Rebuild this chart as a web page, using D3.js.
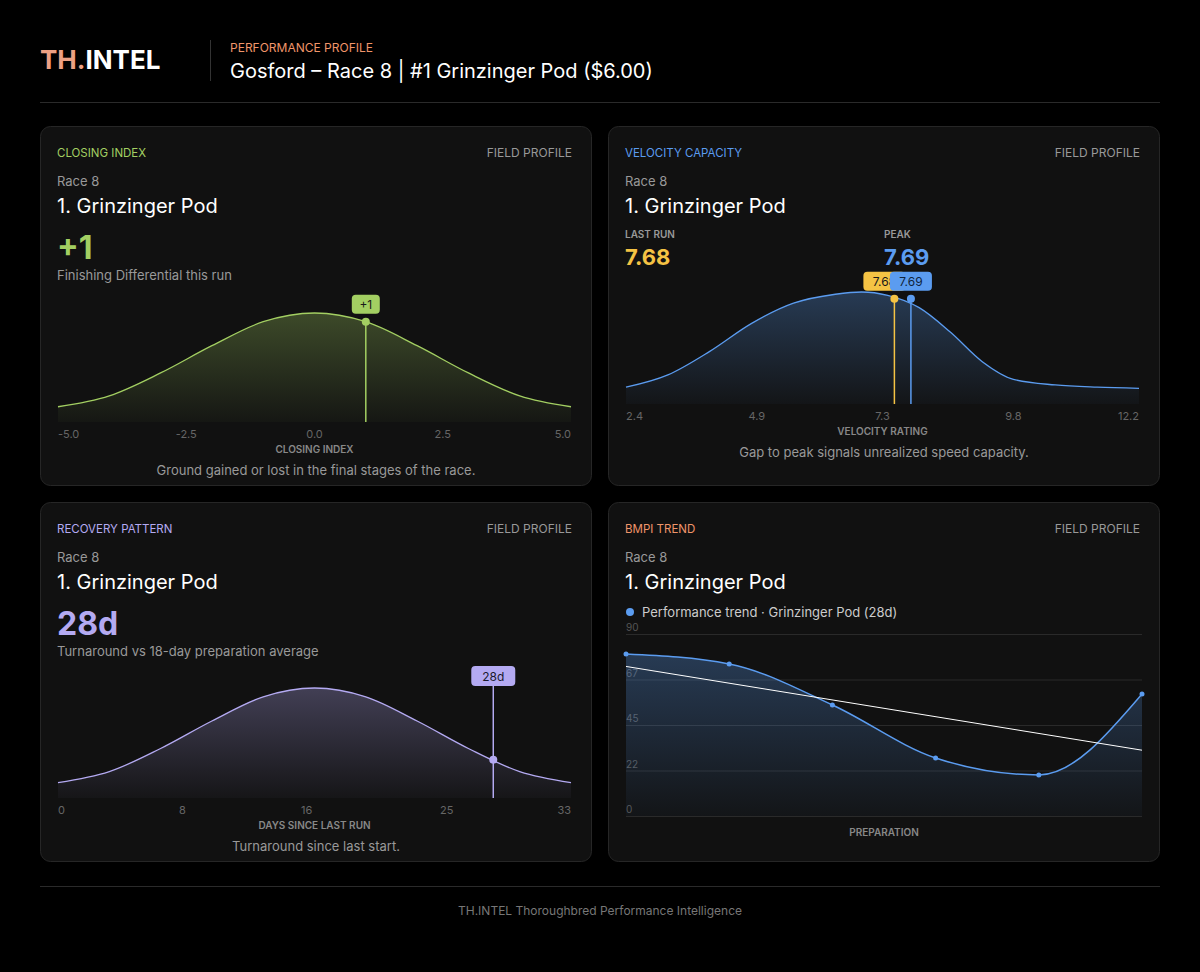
<!DOCTYPE html>
<html><head><meta charset="utf-8">
<script src="https://cdn.jsdelivr.net/npm/d3@7"></script>
<style>
body{margin:0;background:#000;font-family:Inter,"Noto Sans",sans-serif;}
</style></head>
<body><svg id="c" width="1200" height="972"></svg>
<script>
// data
var closingX = [-5, -4, -3, -2, -1, 0, 1, 2, 3, 4, 5];
var closingD = [0.14, 0.24, 0.45, 0.70, 0.92, 1.0, 0.92, 0.70, 0.45, 0.24, 0.14];
var closingTicks = [-5.0, -2.5, 0.0, 2.5, 5.0];
var closingValue = 1;

var velocityX = [2.4, 3.2, 4.0, 4.8, 5.6, 6.4, 6.9, 7.4, 8.0, 8.6, 9.2, 9.8, 10.6, 11.4, 12.2];
var velocityD = [0.15, 0.26, 0.47, 0.72, 0.90, 0.98, 1.0, 0.97, 0.86, 0.64, 0.38, 0.22, 0.17, 0.15, 0.14];
var velocityTicks = [2.4, 4.9, 7.3, 9.8, 12.2];
var lastRun = 7.68, peak = 7.69;

var recoveryX = [0, 3.3, 6.6, 9.9, 13.2, 16.5, 19.8, 23.1, 26.4, 29.7, 33];
var recoveryD = [0.14, 0.24, 0.45, 0.70, 0.92, 1.0, 0.92, 0.70, 0.45, 0.24, 0.14];
var recoveryTicks = [0, 8, 16, 25, 33];
var recoveryValue = 28;

var trendVals = [80.1, 75.2, 54.9, 28.7, 20.3, 60.3];
var trendTicks = [0, 22.5, 45, 67.5, 90];

var C = {green:"#a3cf62", blue:"#5b9cf0", yellow:"#f5c344", purple:"#b4aaf2", orange:"#f0956a", grey:"#8a8a8a"};

var svg = d3.select("#c");
var defs = svg.append("defs");

// header
var h = svg.append("text").attr("x", 40).attr("y", 69).attr("font-size", 26).attr("font-weight", 700);
h.append("tspan").attr("fill", "#eda083").text("TH.");
h.append("tspan").attr("fill", "#fff").text("INTEL");
svg.append("line").attr("x1", 210.5).attr("x2", 210.5).attr("y1", 40).attr("y2", 81).attr("stroke", "#333");
svg.append("text").attr("x", 230).attr("y", 52).attr("fill", C.orange).attr("font-size", 12).text("PERFORMANCE PROFILE");
svg.append("text").attr("x", 230).attr("y", 78).attr("fill", "#fff").attr("font-size", 20).text("Gosford – Race 8 | #1 Grinzinger Pod ($6.00)");
svg.append("line").attr("x1", 40).attr("x2", 1160).attr("y1", 102.5).attr("y2", 102.5).attr("stroke", "#2a2a2a");
svg.append("line").attr("x1", 40).attr("x2", 1160).attr("y1", 886.5).attr("y2", 886.5).attr("stroke", "#2a2a2a");
svg.append("text").attr("x", 600).attr("y", 915).attr("text-anchor", "middle").attr("fill", "#777").attr("font-size", 12)
  .text("TH.INTEL Thoroughbred Performance Intelligence");

function card(x, y, label, color) {
  var g = svg.append("g").attr("transform", "translate(" + x + "," + y + ")");
  g.append("rect").attr("x", 0.5).attr("y", 0.5).attr("width", 551).attr("height", 359).attr("rx", 10)
    .attr("fill", "#111").attr("stroke", "#262626");
  g.append("text").attr("x", 17).attr("y", 31).attr("fill", color).attr("font-size", 11.5).text(label);
  g.append("text").attr("x", 532).attr("y", 31).attr("text-anchor", "end").attr("fill", "#999").attr("font-size", 12).text("FIELD PROFILE");
  g.append("text").attr("x", 17).attr("y", 60).attr("fill", "#999").attr("font-size", 13).text("Race 8");
  g.append("text").attr("x", 17).attr("y", 87).attr("fill", "#fff").attr("font-size", 20).text("1. Grinzinger Pod");
  return g;
}

function grad(id, color) {
  var lg = defs.append("linearGradient").attr("id", id).attr("x1", 0).attr("x2", 0).attr("y1", 0).attr("y2", 1);
  lg.append("stop").attr("offset", "0%").attr("stop-color", color).attr("stop-opacity", 0.3);
  lg.append("stop").attr("offset", "100%").attr("stop-color", color).attr("stop-opacity", 0.03);
}
grad("gG", C.green); grad("gB", C.blue); grad("gP", C.purple);

function bell(g, xs, ds, dom, ticks, fmt, color, gid, x0, x1, yTop, yBot, axisTitle, caption) {
  var x = d3.scaleLinear().domain(dom).range([x0, x1]);
  var y = d3.scaleLinear().domain([0, 1]).range([yBot, yTop]);
  var pts = xs.map(function(v, i){ return [v, ds[i]]; });
  g.append("path").datum(pts).attr("fill", "url(#" + gid + ")")
    .attr("d", d3.area().x(function(d){return x(d[0]);}).y0(yBot).y1(function(d){return y(d[1]);}).curve(d3.curveMonotoneX));
  var line = d3.line().x(function(d){return x(d[0]);}).y(function(d){return y(d[1]);}).curve(d3.curveMonotoneX);
  g.append("path").datum(pts).attr("fill", "none").attr("stroke", color).attr("stroke-width", 1.3).attr("d", line);
  g.selectAll(".tk").data(ticks).enter().append("text")
    .attr("x", function(d){return x(d);}).attr("y", yBot + 16)
    .attr("text-anchor", function(d, i){ return i === 0 ? "start" : (i === ticks.length - 1 ? "end" : "middle"); })
    .attr("fill", "#666").attr("font-size", 11).text(fmt);
  g.append("text").attr("x", (x0 + x1) / 2).attr("y", yBot + 31).attr("text-anchor", "middle")
    .attr("fill", "#888").attr("font-size", 10).attr("font-weight", 600).text(axisTitle);
  g.append("text").attr("x", 276).attr("y", yBot + 53).attr("text-anchor", "middle")
    .attr("fill", "#999").attr("font-size", 13).text(caption);
  return {x: x, y: y, line: line, pts: pts};
}

// curve y at value v, by interpolating the sampled density
function densAt(xs, ds, v) {
  var i = d3.bisectRight(xs, v) - 1; i = Math.max(0, Math.min(xs.length - 2, i));
  var t = (v - xs[i]) / (xs[i + 1] - xs[i]);
  return ds[i] + t * (ds[i + 1] - ds[i]);
}

function marker(g, px, py, color, label, yBot, textColor, shift) {
  g.append("line").attr("x1", px).attr("x2", px).attr("y1", py).attr("y2", yBot).attr("stroke", color).attr("stroke-width", 1.5);
  g.append("circle").attr("cx", px).attr("cy", py).attr("r", 4).attr("fill", color);
  var w = label.length * 7 + 14, bx = px - w / 2 + (shift || 0);
  g.append("rect").attr("x", bx).attr("y", py - 27).attr("width", w).attr("height", 19).attr("rx", 4).attr("fill", color);
  g.append("text").attr("x", bx + w / 2).attr("y", py - 13).attr("text-anchor", "middle").attr("fill", textColor || "#1a1a1a")
    .attr("font-size", 12).text(label);
}

// closing index
var g1 = card(40, 126, "CLOSING INDEX", C.green);
g1.append("text").attr("x", 17).attr("y", 133).attr("fill", C.green).attr("font-size", 32).attr("font-weight", 700).text("+" + closingValue);
g1.append("text").attr("x", 17).attr("y", 154).attr("fill", "#999").attr("font-size", 13).text("Finishing Differential this run");
var s1 = bell(g1, closingX, closingD, [-5, 5], closingTicks, function(d){return d.toFixed(1);}, C.green, "gG",
  18, 531, 187, 296, "CLOSING INDEX", "Ground gained or lost in the final stages of the race.");
marker(g1, s1.x(closingValue), s1.y(densAt(closingX, closingD, closingValue)), C.green, "+1", 296);

// velocity capacity
var g2 = card(608, 126, "VELOCITY CAPACITY", C.blue);
g2.append("text").attr("x", 17).attr("y", 112).attr("fill", "#999").attr("font-size", 10).attr("font-weight", 600).text("LAST RUN");
g2.append("text").attr("x", 17).attr("y", 139).attr("fill", C.yellow).attr("font-size", 22).attr("font-weight", 700).text(lastRun.toFixed(2));
g2.append("text").attr("x", 276).attr("y", 112).attr("fill", "#999").attr("font-size", 10).attr("font-weight", 600).text("PEAK");
g2.append("text").attr("x", 276).attr("y", 139).attr("fill", C.blue).attr("font-size", 22).attr("font-weight", 700).text(peak.toFixed(2));
var s2 = bell(g2, velocityX, velocityD, [2.4, 12.2], velocityTicks, function(d){return d.toFixed(1);}, C.blue, "gB",
  18, 531, 166, 278, "VELOCITY RATING", "Gap to peak signals unrealized speed capacity.");
var yMark = s2.y(0.94);
marker(g2, s2.x(lastRun) - 8, yMark, C.yellow, lastRun.toFixed(2), 278, "#1a1a1a", -10);
marker(g2, s2.x(peak) + 8, yMark, C.blue, peak.toFixed(2), 278, "#10243d");

// recovery
var g3 = card(40, 502, "RECOVERY PATTERN", C.purple);
g3.append("text").attr("x", 17).attr("y", 133).attr("fill", C.purple).attr("font-size", 32).attr("font-weight", 700).text(recoveryValue + "d");
g3.append("text").attr("x", 17).attr("y", 154).attr("fill", "#999").attr("font-size", 13).text("Turnaround vs 18-day preparation average");
var s3 = bell(g3, recoveryX, recoveryD, [0, 33], recoveryTicks, function(d){return d;}, C.purple, "gP",
  18, 531, 186, 296, "DAYS SINCE LAST RUN", "Turnaround since last start.");
(function(){
  var px = s3.x(recoveryValue), py = s3.y(densAt(recoveryX, recoveryD, recoveryValue));
  g3.append("line").attr("x1", px).attr("x2", px).attr("y1", 167).attr("y2", 296).attr("stroke", C.purple).attr("stroke-width", 1.5);
  g3.append("circle").attr("cx", px).attr("cy", py).attr("r", 4).attr("fill", C.purple);
  g3.append("rect").attr("x", px - 22).attr("y", 164).attr("width", 44).attr("height", 20).attr("rx", 4).attr("fill", C.purple);
  g3.append("text").attr("x", px).attr("y", 179).attr("text-anchor", "middle").attr("fill", "#1a1a2e").attr("font-size", 12).text(recoveryValue + "d");
})();

// BMPI trend
var g4 = card(608, 502, "BMPI TREND", C.orange);
g4.append("circle").attr("cx", 22).attr("cy", 110).attr("r", 4).attr("fill", C.blue);
g4.append("text").attr("x", 34).attr("y", 115).attr("fill", "#ccc").attr("font-size", 13).text("Performance trend · Grinzinger Pod (28d)");
var tx = d3.scaleLinear().domain([0, trendVals.length - 1]).range([18, 534]);
var ty = d3.scaleLinear().domain([0, 90]).range([314, 132]);
trendTicks.forEach(function(t){
  g4.append("line").attr("x1", 18).attr("x2", 534).attr("y1", ty(t) + 0.5).attr("y2", ty(t) + 0.5).attr("stroke", "#2a2a2a");
  g4.append("text").attr("x", 18).attr("y", ty(t) - 3).attr("fill", "#555").attr("font-size", 10).text(Math.floor(t));
});
grad("gT", C.blue);
g4.append("path").datum(trendVals).attr("fill", "url(#gT)")
  .attr("d", d3.area().x(function(d, i){return tx(i);}).y0(ty(0)).y1(function(d){return ty(d);}).curve(d3.curveMonotoneX));
g4.append("path").datum(trendVals).attr("fill", "none").attr("stroke", C.blue).attr("stroke-width", 1.5)
  .attr("d", d3.line().x(function(d, i){return tx(i);}).y(function(d){return ty(d);}).curve(d3.curveMonotoneX));
g4.selectAll(".pt").data(trendVals).enter().append("circle")
  .attr("cx", function(d, i){return tx(i);}).attr("cy", function(d){return ty(d);}).attr("r", 2.5).attr("fill", C.blue);
// least squares trend line
var n = trendVals.length, mx = (n - 1) / 2, my = d3.mean(trendVals);
var slope = d3.sum(trendVals, function(d, i){ return (i - mx) * (d - my); }) / d3.sum(trendVals, function(d, i){ return (i - mx) * (i - mx); });
g4.append("line").attr("x1", tx(0)).attr("x2", tx(n - 1))
  .attr("y1", ty(my - slope * mx)).attr("y2", ty(my + slope * mx)).attr("stroke", "#fff").attr("stroke-width", 1);
g4.append("text").attr("x", 276).attr("y", 334).attr("text-anchor", "middle").attr("fill", "#888")
  .attr("font-size", 10).attr("font-weight", 600).text("PREPARATION");
</script></body></html>
